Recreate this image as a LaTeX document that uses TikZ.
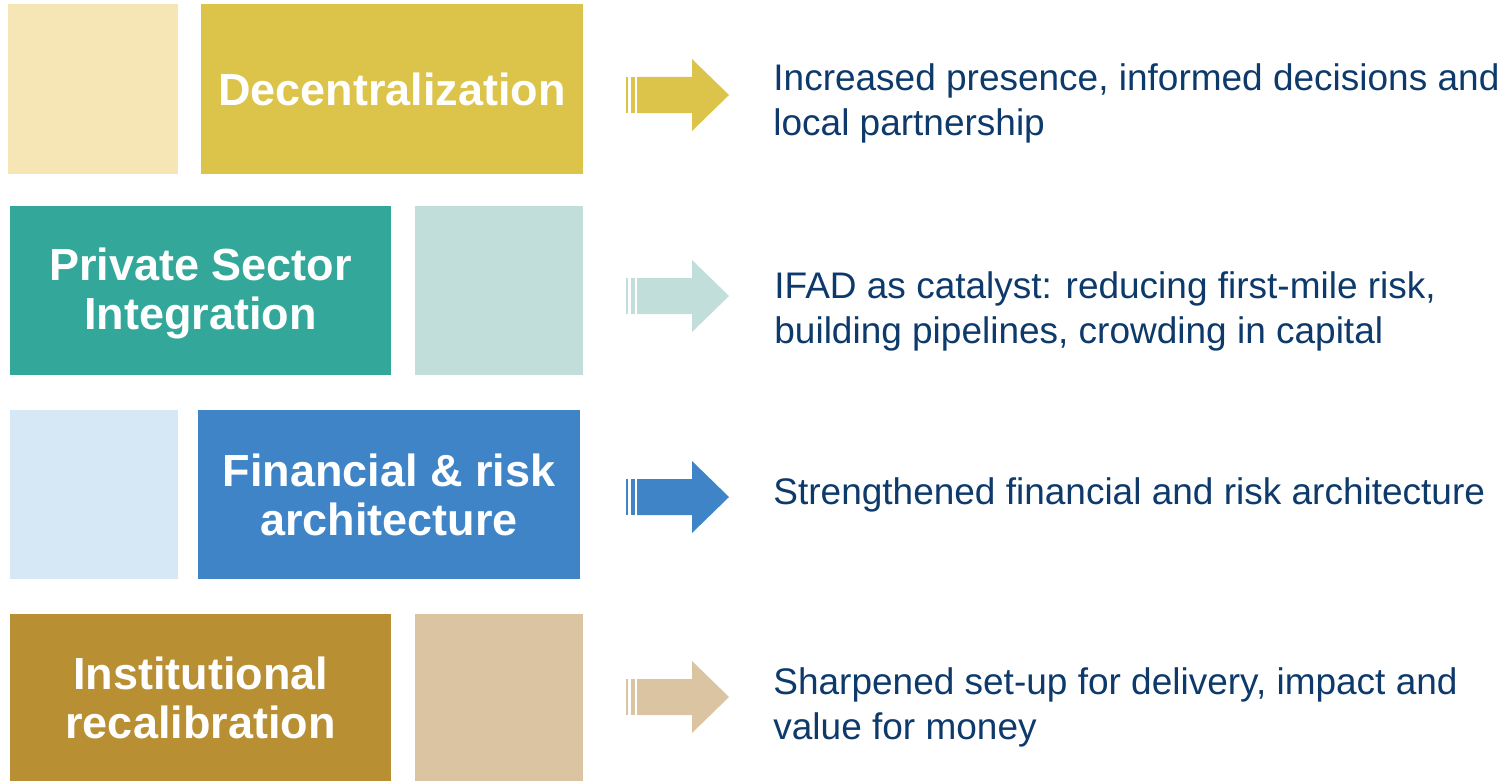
\documentclass[tikz,border=0pt]{standalone}
\usepackage{fontspec}
\setmainfont{Liberation Sans}
\definecolor{gold}{HTML}{DCC34A}
\definecolor{goldlight}{HTML}{F6E6B6}
\definecolor{teal}{HTML}{33A89A}
\definecolor{teallight}{HTML}{C1DEDA}
\definecolor{blue}{HTML}{3E84C6}
\definecolor{bluelight}{HTML}{D6E7F6}
\definecolor{brown}{HTML}{B88F33}
\definecolor{brownlight}{HTML}{DBC4A2}
\definecolor{navy}{HTML}{0D3A6B}

\begin{document}
\begin{tikzpicture}[x=0.5pt,y=-0.5pt,
  box/.style={inner sep=0pt, text=white, align=center,
    font=\fontsize{22.5}{24.5}\selectfont\bfseries},
  outcome/.style={anchor=west, inner sep=0pt, align=left, text=navy,
    font=\fontsize{18.5}{22.5}\selectfont}]
  \useasboundingbox (0,0) rectangle (1507,781);

  % left column: pillars
  \node[box, fill=goldlight, minimum width=85pt, minimum height=85pt] (decA) at (93,89) {};
  \node[box, fill=gold, minimum width=191pt, minimum height=85pt] (decB) at (392,89) {Decentralization};

  \node[box, fill=teal, minimum width=190.5pt, minimum height=84.5pt] (prvA) at (200.5,290.5) {};
  \node[box] (prvL) at (200.5,293.5) {Private Sector\\Integration};
  \node[box, fill=teallight, minimum width=84pt, minimum height=84.5pt] (prvB) at (499,290.5) {};

  \node[box, fill=bluelight, minimum width=84pt, minimum height=84.5pt] (finA) at (94,494.5) {};
  \node[box, fill=blue, minimum width=191pt, minimum height=84.5pt] (finB) at (389,494.5) {Financial \& risk\\architecture};

  \node[box, fill=brown, minimum width=190.5pt, minimum height=83.5pt] (insA) at (200.5,697.5) {Institutional\\recalibration};
  \node[box, fill=brownlight, minimum width=84pt, minimum height=83.5pt] (insB) at (499,697.5) {};

  % striped block arrows
  \foreach \c/\col in {95/gold,296/teallight,497/blue,697/brownlight}{
    \fill[\col] (626,\c-18) rectangle (628,\c+18);
    \fill[\col] (631,\c-18) rectangle (635,\c+18);
    \fill[\col] (637,\c-18)--(692,\c-18)--(692,\c-36)--(729,\c)
      --(692,\c+36)--(692,\c+18)--(637,\c+18)--cycle;
  }

  % outcomes
  \node[outcome] (decT) at (773,103) {Increased presence, informed decisions and\\local partnership};
  \node[outcome] (prvT) at (774,311) {IFAD as catalyst: reducing first-mile risk,\\building pipelines, crowding in capital};
  \node[outcome] (finT) at (773,495) {Strengthened financial and risk architecture};
  \node[outcome] (insT) at (773,707) {Sharpened set-up for delivery, impact and\\value for money};
\end{tikzpicture}
\end{document}
